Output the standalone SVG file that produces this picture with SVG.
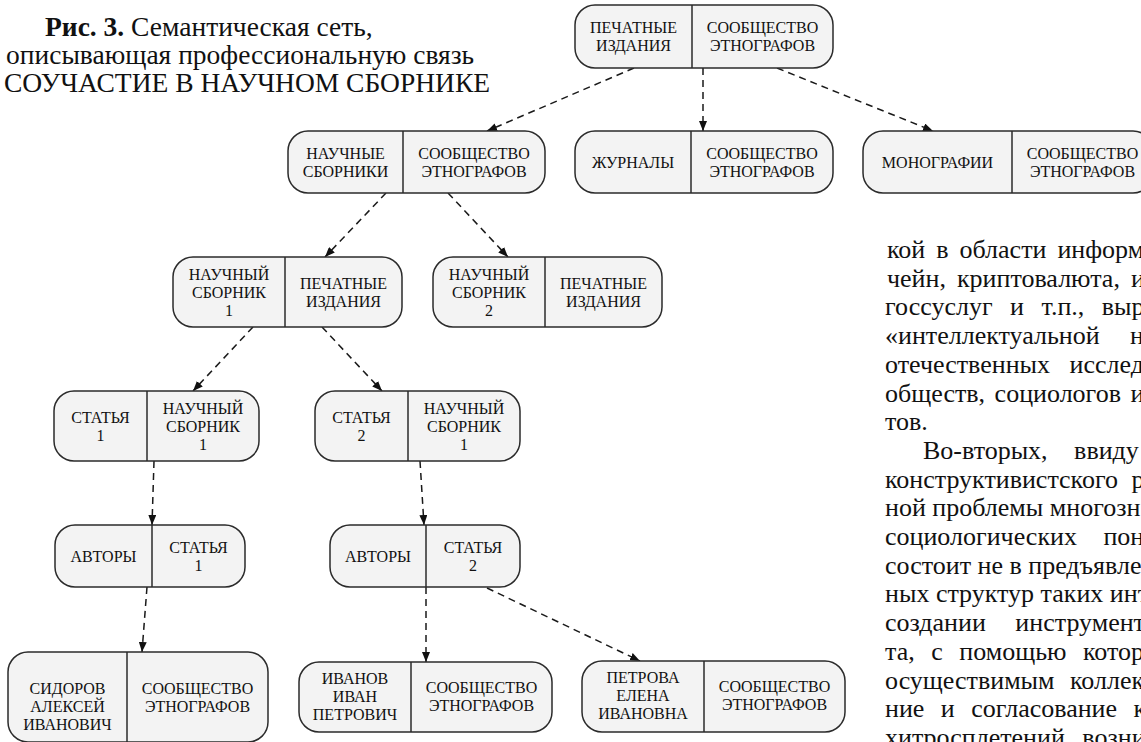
<svg xmlns="http://www.w3.org/2000/svg" width="1141" height="742" viewBox="0 0 1141 742" font-family="Liberation Serif">
<defs>
<marker id="arr" markerUnits="userSpaceOnUse" markerWidth="10" markerHeight="8" refX="10" refY="4" orient="auto">
<path d="M0,0 L10,4 L0,8 z" fill="#111"/>
</marker>
<style>
.box{fill:#f3f3f3;stroke:#2b2b2b;stroke-width:1.5}
.div{stroke:#2b2b2b;stroke-width:1.5}
.t{font-size:16px;fill:#111;text-anchor:middle}
.e{fill:none;stroke:#1a1a1a;stroke-width:1.5;stroke-dasharray:7 5;marker-end:url(#arr)}
.cap{font-size:27.5px;fill:#111}
.body{font-size:26px;fill:#111}
</style>
</defs>
<rect width="1141" height="742" fill="#fff"/>

<g id="caption" font-family="Liberation Serif">
<text class="cap" x="45" y="36"><tspan font-weight="bold">Рис. 3.</tspan> Семантическая сеть,</text>
<text class="cap" x="6" y="64">описывающая профессиональную связь</text>
<text class="cap" x="4" y="92">СОУЧАСТИЕ В НАУЧНОМ СБОРНИКЕ</text>
</g>

<g id="connectors">
<line class="e" x1="634" y1="68" x2="487" y2="131"/>
<line class="e" x1="703" y1="68" x2="703" y2="131"/>
<line class="e" x1="777" y1="68" x2="933" y2="131"/>
<line class="e" x1="386" y1="193" x2="325" y2="257"/>
<line class="e" x1="448" y1="193" x2="508" y2="257"/>
<line class="e" x1="253" y1="327" x2="193" y2="391"/>
<line class="e" x1="322" y1="327" x2="382" y2="391"/>
<line class="e" x1="154" y1="461" x2="152" y2="525"/>
<line class="e" x1="420" y1="461" x2="424" y2="525"/>
<line class="e" x1="147" y1="587" x2="142" y2="652"/>
<line class="e" x1="426" y1="587" x2="426" y2="662"/>
<line class="e" x1="487" y1="588" x2="640" y2="661"/>
</g>

<g id="nodes" font-family="Liberation Serif">
<g id="n_pech">
<rect class="box" x="575" y="5" width="258" height="63" rx="20"/>
<line class="div" x1="692" y1="5" x2="692" y2="68"/>
<text class="t" x="633.5" y="33">ПЕЧАТНЫЕ</text><text class="t" x="633.5" y="51">ИЗДАНИЯ</text>
<text class="t" x="762.5" y="33">СООБЩЕСТВО</text><text class="t" x="762.5" y="51">ЭТНОГРАФОВ</text>
</g>

<g id="n_sborniki">
<rect class="box" x="288" y="131" width="257" height="62" rx="20"/>
<line class="div" x1="403" y1="131" x2="403" y2="193"/>
<text class="t" x="345.5" y="158.5">НАУЧНЫЕ</text><text class="t" x="345.5" y="176.5">СБОРНИКИ</text>
<text class="t" x="474" y="158.5">СООБЩЕСТВО</text><text class="t" x="474" y="176.5">ЭТНОГРАФОВ</text>
</g>

<g id="n_zhurnaly">
<rect class="box" x="575" y="131" width="258" height="62" rx="20"/>
<line class="div" x1="691" y1="131" x2="691" y2="193"/>
<text class="t" x="633" y="167.5">ЖУРНАЛЫ</text>
<text class="t" x="762" y="158.5">СООБЩЕСТВО</text><text class="t" x="762" y="176.5">ЭТНОГРАФОВ</text>
</g>

<g id="n_monografii">
<rect class="box" x="863" y="131" width="290" height="62" rx="20"/>
<line class="div" x1="1012" y1="131" x2="1012" y2="193"/>
<text class="t" x="937.5" y="167.5">МОНОГРАФИИ</text>
<text class="t" x="1082.5" y="158.5">СООБЩЕСТВО</text><text class="t" x="1082.5" y="176.5">ЭТНОГРАФОВ</text>
</g>

<g id="n_sb1">
<rect class="box" x="173" y="257" width="229" height="70" rx="20"/>
<line class="div" x1="285" y1="257" x2="285" y2="327"/>
<text class="t" x="229" y="279.5">НАУЧНЫЙ</text><text class="t" x="229" y="297.5">СБОРНИК</text><text class="t" x="229" y="315.5">1</text>
<text class="t" x="343.5" y="288.5">ПЕЧАТНЫЕ</text><text class="t" x="343.5" y="306.5">ИЗДАНИЯ</text>
</g>

<g id="n_sb2">
<rect class="box" x="433" y="257" width="229" height="70" rx="20"/>
<line class="div" x1="545" y1="257" x2="545" y2="327"/>
<text class="t" x="489" y="279.5">НАУЧНЫЙ</text><text class="t" x="489" y="297.5">СБОРНИК</text><text class="t" x="489" y="315.5">2</text>
<text class="t" x="603.5" y="288.5">ПЕЧАТНЫЕ</text><text class="t" x="603.5" y="306.5">ИЗДАНИЯ</text>
</g>

<g id="n_st1">
<rect class="box" x="54" y="391" width="205" height="70" rx="20"/>
<line class="div" x1="147" y1="391" x2="147" y2="461"/>
<text class="t" x="100.5" y="422.5">СТАТЬЯ</text><text class="t" x="100.5" y="440.5">1</text>
<text class="t" x="203" y="413.5">НАУЧНЫЙ</text><text class="t" x="203" y="431.5">СБОРНИК</text><text class="t" x="203" y="449.5">1</text>
</g>

<g id="n_st2">
<rect class="box" x="315" y="391" width="205" height="70" rx="20"/>
<line class="div" x1="408" y1="391" x2="408" y2="461"/>
<text class="t" x="361.5" y="422.5">СТАТЬЯ</text><text class="t" x="361.5" y="440.5">2</text>
<text class="t" x="464" y="413.5">НАУЧНЫЙ</text><text class="t" x="464" y="431.5">СБОРНИК</text><text class="t" x="464" y="449.5">1</text>
</g>

<g id="n_av1">
<rect class="box" x="55" y="525" width="190" height="62" rx="20"/>
<line class="div" x1="152" y1="525" x2="152" y2="587"/>
<text class="t" x="103.5" y="561.5">АВТОРЫ</text>
<text class="t" x="198.5" y="552.5">СТАТЬЯ</text><text class="t" x="198.5" y="570.5">1</text>
</g>

<g id="n_av2">
<rect class="box" x="330" y="525" width="190" height="62" rx="20"/>
<line class="div" x1="426" y1="525" x2="426" y2="587"/>
<text class="t" x="378" y="561.5">АВТОРЫ</text>
<text class="t" x="473" y="552.5">СТАТЬЯ</text><text class="t" x="473" y="570.5">2</text>
</g>

<g id="n_sidorov">
<rect class="box" x="8" y="652" width="260" height="90" rx="20"/>
<line class="div" x1="127" y1="652" x2="127" y2="742"/>
<text class="t" x="67.5" y="693.5">СИДОРОВ</text><text class="t" x="67.5" y="711.5">АЛЕКСЕЙ</text><text class="t" x="67.5" y="729.5">ИВАНОВИЧ</text>
<text class="t" x="197.5" y="693.5">СООБЩЕСТВО</text><text class="t" x="197.5" y="711.5">ЭТНОГРАФОВ</text>
</g>

<g id="n_ivanov">
<rect class="box" x="299" y="662" width="253" height="70" rx="20"/>
<line class="div" x1="411" y1="662" x2="411" y2="732"/>
<text class="t" x="355" y="683.5">ИВАНОВ</text><text class="t" x="355" y="701.5">ИВАН</text><text class="t" x="355" y="719.5">ПЕТРОВИЧ</text>
<text class="t" x="481.5" y="692.5">СООБЩЕСТВО</text><text class="t" x="481.5" y="710.5">ЭТНОГРАФОВ</text>
</g>

<g id="n_petrova">
<rect class="box" x="582" y="661" width="263" height="71" rx="20"/>
<line class="div" x1="704" y1="661" x2="704" y2="732"/>
<text class="t" x="643" y="683">ПЕТРОВА</text><text class="t" x="643" y="701">ЕЛЕНА</text><text class="t" x="643" y="719">ИВАНОВНА</text>
<text class="t" x="774.5" y="692">СООБЩЕСТВО</text><text class="t" x="774.5" y="710">ЭТНОГРАФОВ</text>
</g>
</g>

<g id="bodytext" class="body" font-family="Liberation Serif">
<text x="887" y="258" word-spacing="4.5">кой в области информ</text>
<text x="887" y="286.7" word-spacing="4.5">чейн, криптовалюта, и</text>
<text x="885" y="315.4" word-spacing="11">госсуслуг и т.п., выр</text>
<text x="885" y="344.1" word-spacing="24">«интеллектуальной н</text>
<text x="885" y="372.8" word-spacing="13">отечественных исслед</text>
<text x="885" y="401.5" word-spacing="3">обществ, социологов и</text>
<text x="885" y="430.2">тов.</text>
<text x="923" y="458.9" word-spacing="20">Во-вторых, ввиду</text>
<text x="885" y="487.6" word-spacing="7">конструктивистского р</text>
<text x="885" y="516.3">ной проблемы многозн</text>
<text x="885" y="545" word-spacing="20">социологических пон</text>
<text x="885" y="573.7">состоит не в предъявле</text>
<text x="885" y="602.4">ных структур таких инт</text>
<text x="885" y="631.1" word-spacing="23">создании инструмента</text>
<text x="885" y="659.8" word-spacing="10">та, с помощью котор</text>
<text x="885" y="688.5" word-spacing="9">осуществимым коллек</text>
<text x="885" y="717.2" word-spacing="10">ние и согласование к</text>
<text x="885" y="745.9" word-spacing="11">хитросплетений возни</text>
</g>
</svg>
